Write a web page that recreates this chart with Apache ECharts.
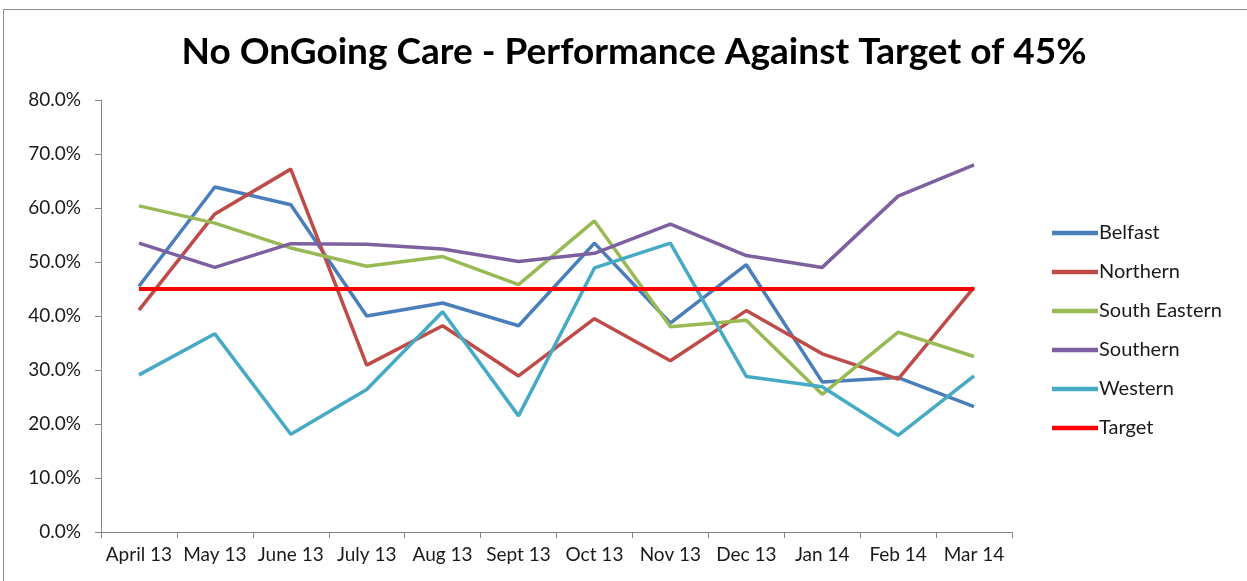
<!DOCTYPE html>
<html>
<head>
<meta charset="utf-8">
<script src="https://cdn.jsdelivr.net/npm/echarts@6/dist/echarts.min.js"></script>
<style>
  html, body { margin: 0; padding: 0; background: #fff; }
  #frame { position: absolute; left: 3px; top: 9px; width: 1250px; height: 580px; border-left: 1px solid #8c8c8c; border-top: 1px solid #8c8c8c; }
  #chart { position: absolute; left: 0; top: 0; width: 1247px; height: 581px; }
</style>
</head>
<body>
<div id="frame"></div>
<div id="chart"></div>
<script>
// months on the x axis
const months = ['April 13', 'May 13', 'June 13', 'July 13', 'Aug 13', 'Sept 13', 'Oct 13', 'Nov 13', 'Dec 13', 'Jan 14', 'Feb 14', 'Mar 14'];

// performance per trust (%)
const belfast = [45.5, 63.9, 60.6, 40.0, 42.4, 38.2, 53.5, 38.7, 49.5, 27.8, 28.6, 23.2];
const northern = [41.1, 58.9, 67.2, 30.9, 38.2, 28.9, 39.5, 31.7, 41.0, 33.0, 28.3, 45.3];
const southEastern = [60.4, 57.2, 52.6, 49.2, 51.0, 45.8, 57.6, 38.0, 39.2, 25.5, 37.0, 32.5];
const southern = [53.5, 49.0, 53.4, 53.3, 52.4, 50.1, 51.6, 57.0, 51.2, 49.0, 62.2, 68.0];
const western = [29.1, 36.7, 18.1, 26.4, 40.8, 21.5, 48.9, 53.5, 28.8, 26.9, 17.9, 28.9];
const target = [45, 45, 45, 45, 45, 45, 45, 45, 45, 45, 45, 45];

const fontFamily = 'Lato, "Open Sans", sans-serif';

function lineSeries(name, data, color, width) {
  return {
    name: name,
    type: 'line',
    data: data,
    symbol: 'none',
    lineStyle: { color: color, width: width },
    itemStyle: { color: color }
  };
}

const chart = echarts.init(document.getElementById('chart'), null, { renderer: 'canvas' });

const option = {
  animation: false,
  textStyle: { fontFamily: fontFamily },
  title: {
    text: 'No OnGoing Care - Performance Against Target of 45%',
    left: 629,
    top: 29,
    textAlign: 'center',
    textStyle: { fontFamily: fontFamily, fontSize: 37, fontWeight: 'bold', color: '#000' }
  },
  legend: {
    orient: 'vertical',
    left: 1047,
    top: 218,
    itemGap: 19,
    itemWidth: 46,
    itemHeight: 20,
    icon: 'path://M0,0 L10,0 L10,1 L0,1 Z',
    textStyle: { fontSize: 20, color: '#1a1a1a', fontFamily: fontFamily, padding: [0, 0, 0, -4] },
    data: ['Belfast', 'Northern', 'South Eastern', 'Southern', 'Western', 'Target']
  },
  grid: {
    left: 101,
    right: 235,
    top: 100,
    bottom: 49
  },
  xAxis: {
    type: 'category',
    data: months,
    boundaryGap: true,
    axisLine: { lineStyle: { color: '#868686', width: 1 } },
    axisTick: { show: true, length: 6, lineStyle: { color: '#868686' } },
    axisLabel: { fontSize: 19, color: '#1a1a1a', margin: 13, interval: 0, fontFamily: fontFamily },
    splitLine: { show: false }
  },
  yAxis: {
    type: 'value',
    min: 0,
    max: 80,
    interval: 10,
    axisLine: { show: true, lineStyle: { color: '#868686', width: 1 } },
    axisTick: { show: true, length: 6, lineStyle: { color: '#868686' } },
    axisLabel: {
      fontSize: 19,
      color: '#1a1a1a',
      margin: 20,
      fontFamily: fontFamily,
      formatter: v => v.toFixed(1) + '%'
    },
    splitLine: { show: false }
  },
  series: [
    lineSeries('Belfast', belfast, '#4a7ebb', 3.5),
    lineSeries('Northern', northern, '#be4b48', 3.5),
    lineSeries('South Eastern', southEastern, '#98b954', 3.5),
    lineSeries('Southern', southern, '#7d60a0', 3.5),
    lineSeries('Western', western, '#46aac5', 3.5),
    lineSeries('Target', target, '#ff0000', 4)
  ]
};

chart.setOption(option);
</script>
</body>
</html>
